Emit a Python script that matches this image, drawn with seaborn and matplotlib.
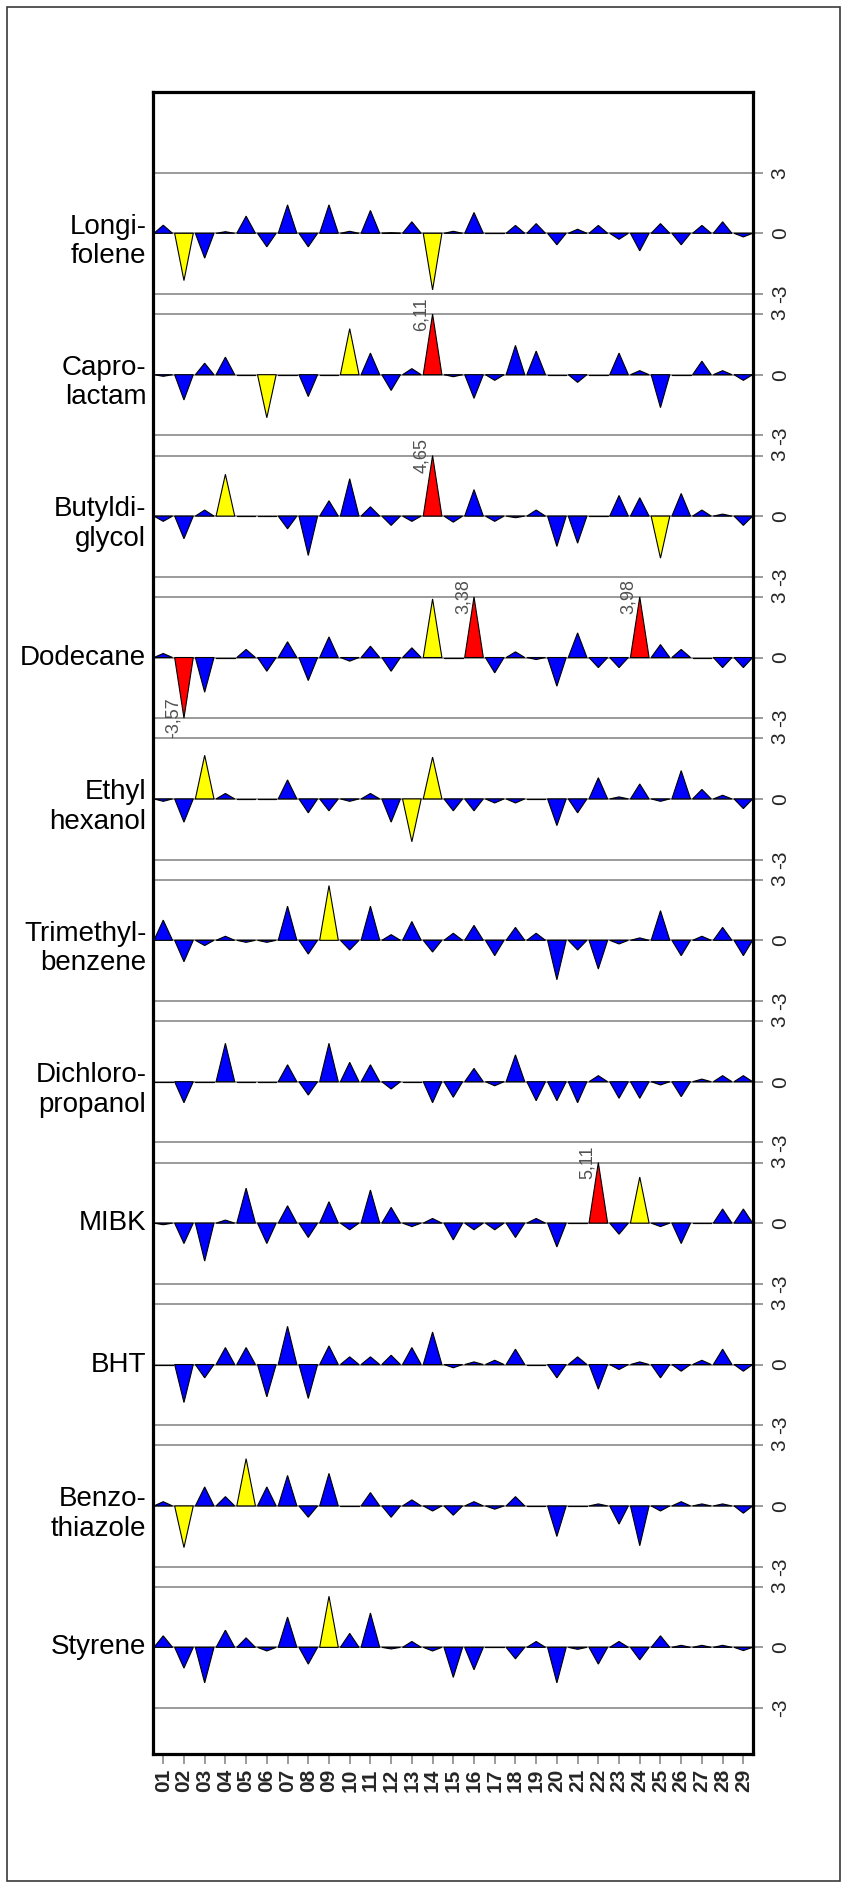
import matplotlib
matplotlib.use("Agg")
import matplotlib.pyplot as plt
import seaborn as sns
import pandas as pd
from matplotlib.patches import Polygon, Rectangle

# ---- data -------------------------------------------------------------
compounds = ["Longi-\nfolene", "Capro-\nlactam", "Butyldi-\nglycol", "Dodecane",
             "Ethyl\nhexanol", "Trimethyl-\nbenzene", "Dichloro-\npropanol",
             "MIBK", "BHT", "Benzo-\nthiazole", "Styrene"]
samples = [f"{i:02d}" for i in range(1, 30)]

longifolene = [0.40, -2.34, -1.23, 0.08, 0.85, -0.67, 1.41, -0.67, 1.41, 0.10,
               1.13, 0.02, 0.57, -2.80, 0.10, 1.03, 0.00, 0.39, 0.48, -0.57,
               0.20, 0.39, -0.30, -0.87, 0.48, -0.57, 0.39, 0.57, -0.18]
caprolactam = [-0.08, -1.25, 0.57, 0.87, 0.00, -2.13, 0.00, -1.08, 0.00, 2.28,
               1.07, -0.78, 0.30, 6.11, -0.10, -1.17, -0.28, 1.45, 1.17, 0.00,
               -0.38, 0.00, 1.07, 0.20, -1.63, 0.00, 0.67, 0.20, -0.28]
butyldiglycol = [-0.26, -1.12, 0.30, 2.07, 0.00, 0.00, -0.63, -1.95, 0.76, 1.85,
                 0.46, -0.46, -0.26, 4.65, -0.30, 1.31, -0.26, -0.08, 0.30, -1.50,
                 -1.34, 0.00, 1.02, 0.91, -2.08, 1.12, 0.30, 0.10, -0.46]
dodecane = [0.20, -3.57, -1.72, 0.00, 0.40, -0.68, 0.78, -1.14, 1.02, -0.18,
            0.56, -0.68, 0.48, 2.90, 0.00, 3.38, -0.76, 0.28, -0.10, -1.42,
            1.22, -0.50, -0.50, 3.98, 0.64, 0.40, 0.00, -0.50, -0.50]
ethylhexanol = [-0.12, -1.15, 2.16, 0.27, 0.00, 0.00, 0.94, -0.69, -0.59, -0.12,
                0.27, -1.15, -2.12, 2.07, -0.59, -0.59, -0.20, -0.20, 0.00, -1.32,
                -0.69, 1.05, 0.10, 0.74, -0.12, 1.40, 0.47, 0.18, -0.48]
trimethylbenzene = [1.00, -1.06, -0.26, 0.20, -0.10, -0.10, 1.69, -0.68, 2.71, -0.48,
                    1.69, 0.28, 0.93, -0.58, 0.35, 0.74, -0.76, 0.64, 0.35, -1.95,
                    -0.48, -1.42, -0.18, 0.12, 1.47, -0.76, 0.20, 0.64, -0.76]
dichloropropanol = [0.00, -1.04, 0.00, 1.90, 0.00, 0.00, 0.84, -0.66, 1.90, 0.96,
                    0.84, -0.36, 0.00, -1.04, -0.77, 0.66, -0.20, 1.33, -0.94, -0.94,
                    -1.04, 0.30, -0.82, -0.82, -0.16, -0.74, 0.13, 0.30, 0.30]
mibk = [-0.08, -1.01, -1.88, 0.15, 1.73, -1.01, 0.86, -0.71, 1.06, -0.33,
        1.64, 0.78, -0.17, 0.23, -0.83, -0.33, -0.33, -0.71, 0.23, -1.18,
        0.00, 5.11, -0.55, 2.28, -0.17, -1.01, 0.00, 0.70, 0.70]
bht = [0.00, -1.88, -0.66, 0.84, 0.84, -1.60, 1.89, -1.68, 0.92, 0.38,
       0.38, 0.46, 0.84, 1.61, -0.16, 0.13, 0.21, 0.76, 0.00, -0.66,
       0.38, -1.22, -0.25, 0.13, -0.66, -0.33, 0.21, 0.76, -0.33]
benzothiazole = [0.21, -2.06, 0.94, 0.46, 2.34, 0.94, 1.51, -0.56, 1.61, 0.00,
                 0.66, -0.56, 0.30, -0.25, -0.46, 0.21, -0.16, 0.46, 0.00, -1.51,
                 0.00, 0.10, -0.90, -1.97, -0.25, 0.21, 0.10, 0.10, -0.36]
styrene = [0.57, -1.03, -1.76, 0.85, 0.47, -0.18, 1.50, -0.83, 2.53, 0.69,
           1.70, -0.08, 0.29, -0.18, -1.49, -1.11, 0.00, -0.57, 0.29, -1.76,
           -0.10, -0.83, 0.29, -0.62, 0.57, 0.10, 0.10, 0.10, -0.16]

series = [longifolene, caprolactam, butyldiglycol, dodecane, ethylhexanol,
          trimethylbenzene, dichloropropanol, mibk, bht, benzothiazole, styrene]

# ---- layout / style ---------------------------------------------------
SPACING = 7.0        # vertical distance between panel baselines
LIMIT = 3.0          # spikes are clipped at +/- LIMIT and annotated
HALF = 0.45          # half-width of each spike
GRID = "#808080"

sns.set_theme(style="white")
plt.rcParams["font.family"] = ["Liberation Sans", "DejaVu Sans"]

records = []
for i, (name, vals) in enumerate(zip(compounds, series)):
    for j, v in enumerate(vals):
        records.append({"panel": i, "compound": name, "pos": j + 1,
                        "sample": samples[j], "value": v})
df = pd.DataFrame(records)
df["base"] = -SPACING * df["panel"]


def spike_color(v):
    a = abs(v)
    if a > LIMIT:
        return "#ff0000"
    if a >= 2.0:
        return "#ffff00"
    return "#0000ff"


W, H = 843, 1888
fig = plt.figure(figsize=(W / 100, H / 100), dpi=100)
ax = fig.add_axes([153.3 / W, (H - 1754) / H, 600 / W, 1661.7 / H])

n_panels = len(compounds)
x0, x1 = 0.52, 29.48
ax.set_xlim(x0, x1)
ax.set_ylim(-SPACING * (n_panels - 1) - 5.28, 6.98)

# reference lines for each panel
for i in range(n_panels):
    base = -SPACING * i
    for lvl in (LIMIT, 0.0, -LIMIT):
        ax.plot([x0, x1], [base + lvl, base + lvl], color=GRID, lw=1.1,
                zorder=1, solid_capstyle="butt")

# spikes
for row in df.itertuples():
    v = row.value
    h = max(min(v, LIMIT), -LIMIT)
    tri = Polygon([(row.pos - HALF, row.base), (row.pos, row.base + h),
                   (row.pos + HALF, row.base)], closed=True,
                  facecolor=spike_color(v), edgecolor="black", lw=0.8,
                  joinstyle="miter", zorder=3)
    ax.add_patch(tri)
    if abs(v) > LIMIT:
        ax.text(row.pos - 0.12, row.base + h, f"{v:.2f}".replace(".", ","),
                rotation=90, ha="right", va="center", fontsize=13,
                color="#505050", zorder=4)

# compound names on the left
for i, name in enumerate(compounds):
    shift = -0.4 if "\n" in name else 0.0
    ax.text(-0.0117, -SPACING * i + shift, name,
            transform=ax.get_yaxis_transform(),
            ha="right", va="center", multialignment="right", fontsize=20,
            linespacing=1.17, color="black")

# right-hand scale for every panel
yt, yl = [], []
for i in range(n_panels):
    base = -SPACING * i
    yt += [base + LIMIT, base, base - LIMIT]
    yl += ["3", "0", "-3"]
ax.yaxis.tick_right()
ax.set_yticks(yt)
ax.set_yticklabels(yl, rotation=90, va="center", fontsize=15)
ax.tick_params(axis="y", which="both", right=True, left=False, length=7.5,
               width=1.1, color=GRID, pad=5, labelsize=15)

ax.set_xticks(range(1, 30))
ax.set_xticklabels(samples, rotation=90, fontsize=15, fontweight="bold")
ax.tick_params(axis="x", bottom=True, length=7, width=1.1, color=GRID, pad=3.5)

ax.set_xlabel("")
ax.set_ylabel("")
ax.grid(False)
for sp in ax.spines.values():
    sp.set_visible(True)
    sp.set_color("black")
    sp.set_linewidth(2.3)
    sp.set_zorder(5)

# thin outer border around the whole figure
fig.patches.append(Rectangle((7 / W, 7 / H), (840 - 7) / W, (1881 - 7) / H,
                             transform=fig.transFigure, fill=False,
                             edgecolor="#3a3a3a", lw=1.2))

fig.savefig("out.png", dpi=100, facecolor="white")
